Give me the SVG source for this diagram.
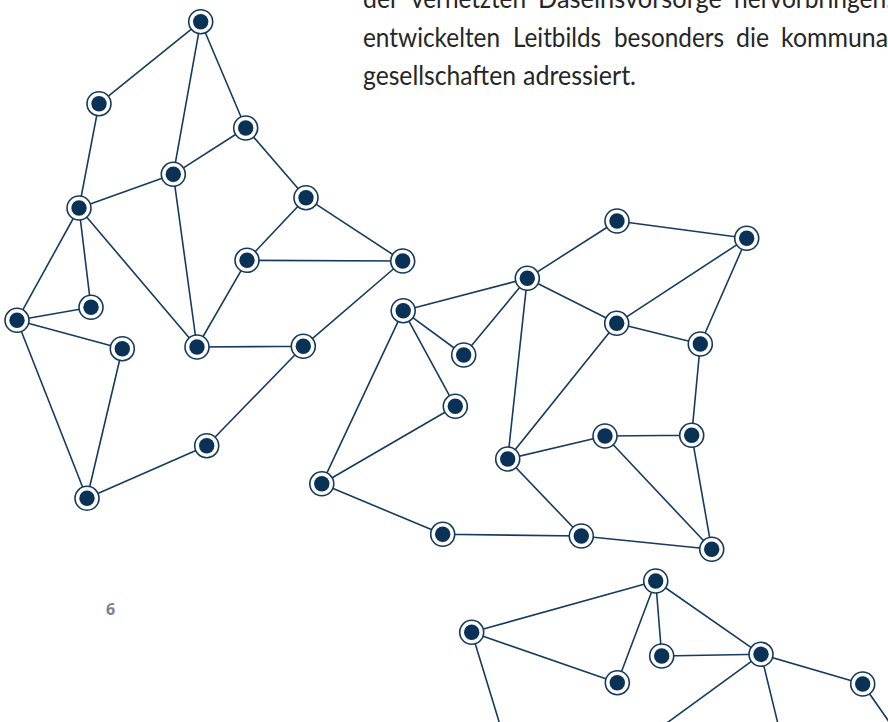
<svg xmlns="http://www.w3.org/2000/svg" width="888" height="722" viewBox="0 0 888 722">
<style>
.e{stroke:#173b5e;stroke-width:1.6;fill:none;stroke-linecap:round}
.o{fill:#fff;stroke:#163a5c;stroke-width:1.6}
.i{fill:#0a3256}
.t{font-family:Lato,"Open Sans",sans-serif;font-size:26px;fill:#262626}
.p{font-family:"Open Sans","Noto Sans",sans-serif;font-size:16px;font-weight:bold;fill:#7a7f99}
</style>
<rect width="888" height="722" fill="#fff"/>
<g id="text">
<text class="t" y="8"><tspan x="363" textLength="36" lengthAdjust="spacingAndGlyphs">der</tspan><tspan x="411" textLength="115" lengthAdjust="spacingAndGlyphs">vernetzten</tspan><tspan x="538" textLength="184" lengthAdjust="spacingAndGlyphs">Daseinsvorsorge</tspan><tspan x="734" textLength="158" lengthAdjust="spacingAndGlyphs">hervorbringen.</tspan></text>
<text class="t" y="47"><tspan x="363" textLength="137" lengthAdjust="spacingAndGlyphs">entwickelten</tspan><tspan x="513" textLength="88" lengthAdjust="spacingAndGlyphs">Leitbilds</tspan><tspan x="614" textLength="110" lengthAdjust="spacingAndGlyphs">besonders</tspan><tspan x="736" textLength="33" lengthAdjust="spacingAndGlyphs">die</tspan><tspan x="781" textLength="107" lengthAdjust="spacingAndGlyphs">kommuna</tspan></text>
<text class="t" y="85"><tspan x="363" textLength="153" lengthAdjust="spacingAndGlyphs">gesellschaften</tspan><tspan x="523" textLength="113" lengthAdjust="spacingAndGlyphs">adressiert.</tspan></text>
<text class="p" x="110.5" y="615" text-anchor="middle">6</text>
</g>
<g id="connectors">
<path class="e" d="M200.7,21.7L99,103.7M200.7,21.7L173.3,174.3M200.7,21.7L245.7,128M99,103.7L79,208M245.7,128L173.3,174.3M245.7,128L306,197.7M173.3,174.3L79,208M173.3,174.3L197,347M79,208L17,320.3M79,208L91,307.3M79,208L197,347M306,197.7L247,260.3M306,197.7L402.7,261M247,260.3L402.7,261M247,260.3L197,347M197,347L303.3,346.3M303.3,346.3L402.7,261M303.3,346.3L206.7,445.7M206.7,445.7L87,498.3M17,320.3L91,307.3M17,320.3L122.3,348.7M17,320.3L87,498.3M122.3,348.7L87,498.3"/>
<path class="e" d="M617,221L527.3,278.3M617,221L746.7,238.3M746.7,238.3L616.7,323.3M746.7,238.3L700.3,344M527.3,278.3L403.2,310.7M527.3,278.3L463.7,355M527.3,278.3L616.7,323.3M527.3,278.3L507.7,459M403.2,310.7L463.7,355M403.2,310.7L455.3,406.3M403.2,310.7L321.8,483.8M616.7,323.3L700.3,344M616.7,323.3L507.7,459M700.3,344L691.7,435.3M605,436L691.7,435.3M605,436L507.7,459M605,436L711.7,549.3M691.7,435.3L711.7,549.3M507.7,459L581.3,536M455.3,406.3L321.8,483.8M321.8,483.8L442.7,534.3M442.7,534.3L581.3,536M581.3,536L711.7,549.3"/>
<path class="e" d="M655.7,581L471.7,632.3M655.7,581L617.3,682.7M655.7,581L661.7,656M655.7,581L761,654.3M471.7,632.3L617.3,682.7M471.7,632.3L501,728M661.7,656L761,654.3M761,654.3L862.7,684M761,654.3L660,728M761,654.3L779,728M862.7,684L892,726"/>
</g>
<g id="nodes">
<g id="nA"><circle class="o" cx="200.7" cy="21.7" r="12"/><circle class="i" cx="200.7" cy="21.7" r="7.7"/></g>
<g id="nB"><circle class="o" cx="99" cy="103.7" r="12"/><circle class="i" cx="99" cy="103.7" r="7.7"/></g>
<g id="nC"><circle class="o" cx="245.7" cy="128" r="12"/><circle class="i" cx="245.7" cy="128" r="7.7"/></g>
<g id="nD"><circle class="o" cx="173.3" cy="174.3" r="12"/><circle class="i" cx="173.3" cy="174.3" r="7.7"/></g>
<g id="nE"><circle class="o" cx="79" cy="208" r="12"/><circle class="i" cx="79" cy="208" r="7.7"/></g>
<g id="nF"><circle class="o" cx="306" cy="197.7" r="12"/><circle class="i" cx="306" cy="197.7" r="7.7"/></g>
<g id="nG"><circle class="o" cx="247" cy="260.3" r="12"/><circle class="i" cx="247" cy="260.3" r="7.7"/></g>
<g id="nH"><circle class="o" cx="402.7" cy="261" r="12"/><circle class="i" cx="402.7" cy="261" r="7.7"/></g>
<g id="nI"><circle class="o" cx="91" cy="307.3" r="12"/><circle class="i" cx="91" cy="307.3" r="7.7"/></g>
<g id="nJ"><circle class="o" cx="17" cy="320.3" r="12"/><circle class="i" cx="17" cy="320.3" r="7.7"/></g>
<g id="nK"><circle class="o" cx="122.3" cy="348.7" r="12"/><circle class="i" cx="122.3" cy="348.7" r="7.7"/></g>
<g id="nL"><circle class="o" cx="197" cy="347" r="12"/><circle class="i" cx="197" cy="347" r="7.7"/></g>
<g id="nM"><circle class="o" cx="303.3" cy="346.3" r="12"/><circle class="i" cx="303.3" cy="346.3" r="7.7"/></g>
<g id="nN"><circle class="o" cx="206.7" cy="445.7" r="12"/><circle class="i" cx="206.7" cy="445.7" r="7.7"/></g>
<g id="nO"><circle class="o" cx="87" cy="498.3" r="12"/><circle class="i" cx="87" cy="498.3" r="7.7"/></g>
<g id="nP"><circle class="o" cx="617" cy="221" r="12"/><circle class="i" cx="617" cy="221" r="7.7"/></g>
<g id="nQ"><circle class="o" cx="746.7" cy="238.3" r="12"/><circle class="i" cx="746.7" cy="238.3" r="7.7"/></g>
<g id="nR"><circle class="o" cx="527.3" cy="278.3" r="12"/><circle class="i" cx="527.3" cy="278.3" r="7.7"/></g>
<g id="nS"><circle class="o" cx="403.2" cy="310.7" r="12"/><circle class="i" cx="403.2" cy="310.7" r="7.7"/></g>
<g id="nT"><circle class="o" cx="616.7" cy="323.3" r="12"/><circle class="i" cx="616.7" cy="323.3" r="7.7"/></g>
<g id="nU"><circle class="o" cx="463.7" cy="355" r="12"/><circle class="i" cx="463.7" cy="355" r="7.7"/></g>
<g id="nV"><circle class="o" cx="700.3" cy="344" r="12"/><circle class="i" cx="700.3" cy="344" r="7.7"/></g>
<g id="nW"><circle class="o" cx="455.3" cy="406.3" r="12"/><circle class="i" cx="455.3" cy="406.3" r="7.7"/></g>
<g id="nX"><circle class="o" cx="605" cy="436" r="12"/><circle class="i" cx="605" cy="436" r="7.7"/></g>
<g id="nY"><circle class="o" cx="691.7" cy="435.3" r="12"/><circle class="i" cx="691.7" cy="435.3" r="7.7"/></g>
<g id="nZ"><circle class="o" cx="507.7" cy="459" r="12"/><circle class="i" cx="507.7" cy="459" r="7.7"/></g>
<g id="nAA"><circle class="o" cx="321.8" cy="483.8" r="12"/><circle class="i" cx="321.8" cy="483.8" r="7.7"/></g>
<g id="nAB"><circle class="o" cx="442.7" cy="534.3" r="12"/><circle class="i" cx="442.7" cy="534.3" r="7.7"/></g>
<g id="nAC"><circle class="o" cx="581.3" cy="536" r="12"/><circle class="i" cx="581.3" cy="536" r="7.7"/></g>
<g id="nAD"><circle class="o" cx="711.7" cy="549.3" r="12"/><circle class="i" cx="711.7" cy="549.3" r="7.7"/></g>
<g id="nBA"><circle class="o" cx="655.7" cy="581" r="12"/><circle class="i" cx="655.7" cy="581" r="7.7"/></g>
<g id="nBB"><circle class="o" cx="471.7" cy="632.3" r="12"/><circle class="i" cx="471.7" cy="632.3" r="7.7"/></g>
<g id="nBC"><circle class="o" cx="661.7" cy="656" r="12"/><circle class="i" cx="661.7" cy="656" r="7.7"/></g>
<g id="nBD"><circle class="o" cx="761" cy="654.3" r="12"/><circle class="i" cx="761" cy="654.3" r="7.7"/></g>
<g id="nBE"><circle class="o" cx="617.3" cy="682.7" r="12"/><circle class="i" cx="617.3" cy="682.7" r="7.7"/></g>
<g id="nBF"><circle class="o" cx="862.7" cy="684" r="12"/><circle class="i" cx="862.7" cy="684" r="7.7"/></g>
</g>
</svg>
